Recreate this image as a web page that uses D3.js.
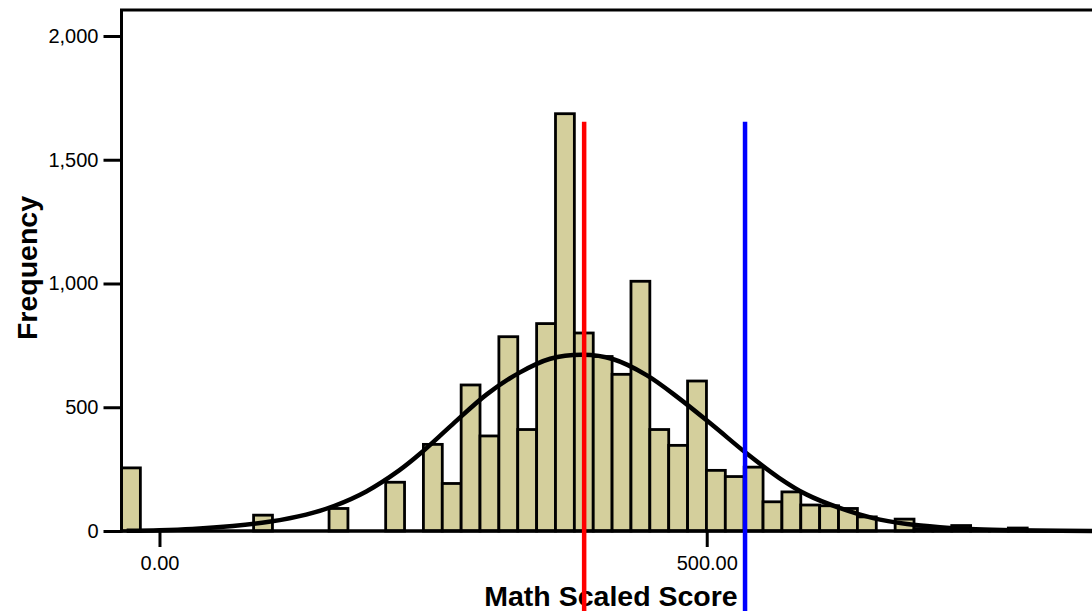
<!DOCTYPE html>
<html>
<head>
<meta charset="utf-8">
<script src="https://cdn.jsdelivr.net/npm/d3@7"></script>
<style>
  body { margin: 0; background: #fff; }
  text { font-family: "Liberation Sans", Arial, sans-serif; }
</style>
</head>
<body>
<div id="chart"></div>
<script>
// histogram bins (score units)
const binStart = -34.7;
const binWidth = 17.24;
const binCounts = [
    255, 0, 0, 0, 0, 0, 0, 64, 0, 0,
    0, 91, 0, 0, 197, 0, 350, 192, 590, 384,
    785, 410, 838, 1686, 800, 705, 633, 1009, 410, 346,
    606, 245, 220, 258, 118, 158, 105, 102, 91, 57,
    0, 48, 10, 6, 22, 4, 5, 12, 2, 0
];

// fitted normal curve
const curveScores = [-30, 0, 30, 67, 100, 134, 160, 189, 219, 238, 268, 299, 329, 357, 387,
    414, 445, 475, 506, 536, 566, 591, 622, 652, 683, 713, 740, 770, 800, 852];
const curveFreqs = [1, 3, 8, 20, 37, 66, 102, 160, 245, 312, 432, 552, 640, 696, 712,
    695, 630, 535, 425, 315, 215, 148, 92, 52, 28, 15, 8, 4, 2, 0.5];

// reference lines
const refScores = [388, 535];
const refTop = 1653;

const yTicks = [0, 500, 1000, 1500, 2000];
const xTicks = [0, 500];

const width = 1092;
const height = 611;

const svg = d3.select('#chart')
    .append('svg')
    .attr('width', width)
    .attr('height', height);

const x = d3.scaleLinear()
    .domain([-34.7, 852])
    .range([121.5, 1092]);

const y = d3.scaleLinear()
    .domain([0, 2105])
    .range([531, 10]);

const bins = binCounts.map((c, i) => ({
    x0: binStart + i * binWidth,
    x1: binStart + (i + 1) * binWidth,
    count: c
})).filter(d => d.count > 0);

// bars
svg.append('g')
    .selectAll('rect')
    .data(bins)
    .join('rect')
        .attr('x', d => x(d.x0))
        .attr('y', d => y(d.count))
        .attr('width', d => x(d.x1) - x(d.x0))
        .attr('height', d => y(0) - y(d.count))
        .attr('fill', '#D4CF9C')
        .attr('stroke', '#000')
        .attr('stroke-width', 2.8);

// normal curve
const curvePoints = curveScores.map((s, i) => [s, curveFreqs[i]]);
svg.append('path')
    .attr('d', d3.line()
        .x(d => x(d[0]))
        .y(d => y(d[1]))
        .curve(d3.curveCatmullRom.alpha(0.5))(curvePoints))
    .attr('fill', 'none')
    .attr('stroke', '#000')
    .attr('stroke-width', 4.5)
    .attr('stroke-linejoin', 'round');

// frame: left axis, bottom axis, top border
const yAxis = d3.axisLeft(y)
    .tickValues(yTicks)
    .tickFormat(d3.format(','))
    .tickSize(18)
    .tickPadding(5);

const gy = svg.append('g')
    .attr('transform', `translate(${x.range()[0]},0)`)
    .call(yAxis);
gy.select('.domain').remove();
gy.selectAll('line').attr('stroke', '#000').attr('stroke-width', 3);
gy.selectAll('text')
    .attr('font-size', 20)
    .attr('fill', '#000')
    .style('font-family', '"Liberation Sans", Arial, sans-serif');

const xAxis = d3.axisBottom(x)
    .tickValues(xTicks)
    .tickFormat(d3.format('.2f'))
    .tickSize(16)
    .tickPadding(9);

const gx = svg.append('g')
    .attr('transform', `translate(0,${y(0)})`)
    .call(xAxis);
gx.select('.domain').remove();
gx.selectAll('line').attr('stroke', '#000').attr('stroke-width', 3);
gx.selectAll('text')
    .attr('font-size', 20)
    .attr('fill', '#000')
    .style('font-family', '"Liberation Sans", Arial, sans-serif');

svg.append('line')
    .attr('x1', x.range()[0]).attr('x2', x.range()[0])
    .attr('y1', y.range()[1]).attr('y2', y(0) + 1.5)
    .attr('stroke', '#000').attr('stroke-width', 3);
svg.append('line')
    .attr('x1', x.range()[0] - 1.5).attr('x2', width)
    .attr('y1', y(0)).attr('y2', y(0))
    .attr('stroke', '#000').attr('stroke-width', 3.5);
svg.append('line')
    .attr('x1', x.range()[0] - 1.5).attr('x2', width)
    .attr('y1', y.range()[1]).attr('y2', y.range()[1])
    .attr('stroke', '#000').attr('stroke-width', 3);

// axis titles
svg.append('text')
    .text('Math Scaled Score')
    .attr('x', 611)
    .attr('y', 606)
    .attr('text-anchor', 'middle')
    .attr('font-size', 28.5)
    .attr('font-weight', 'bold');

svg.append('text')
    .text('Frequency')
    .attr('transform', 'translate(37,268) rotate(-90)')
    .attr('text-anchor', 'middle')
    .attr('font-size', 28.5)
    .attr('font-weight', 'bold');

// red and blue reference lines
const refColors = ['#FF0000', '#0000FF'];
svg.append('g')
    .selectAll('line')
    .data(refScores)
    .join('line')
        .attr('x1', d => x(d))
        .attr('x2', d => x(d))
        .attr('y1', y(refTop))
        .attr('y2', height)
        .attr('stroke', (d, i) => refColors[i])
        .attr('stroke-width', 4.5);
</script>
</body>
</html>
